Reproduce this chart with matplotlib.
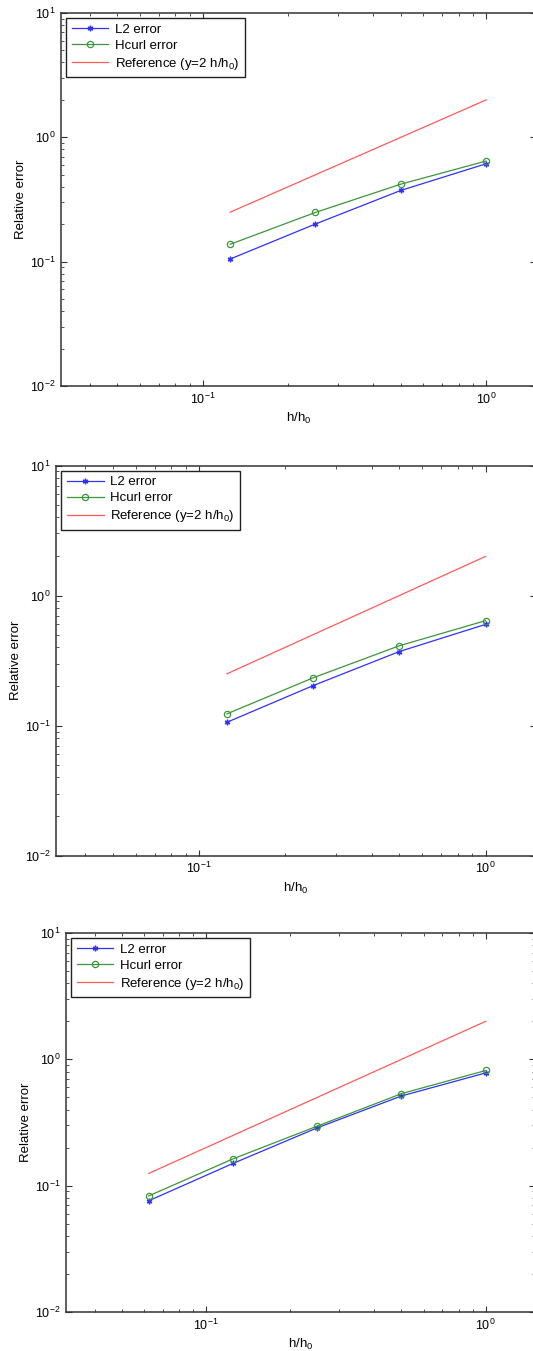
import matplotlib
matplotlib.use('Agg')
import matplotlib.pyplot as plt
from matplotlib.ticker import LogLocator, NullFormatter

plt.rcParams['font.family'] = ['Liberation Sans', 'DejaVu Sans']
plt.rcParams['mathtext.default'] = 'regular'

# data
h1 = [0.125, 0.25, 0.5, 1.0]
l2_1 = [0.105, 0.201, 0.374, 0.613]
hcurl_1 = [0.138, 0.249, 0.42, 0.645]

h2 = [0.125, 0.25, 0.5, 1.0]
l2_2 = [0.106, 0.203, 0.371, 0.600]
hcurl_2 = [0.123, 0.233, 0.411, 0.641]

h3 = [0.0625, 0.125, 0.25, 0.5, 1.0]
l2_3 = [0.076, 0.150, 0.287, 0.513, 0.781]
hcurl_3 = [0.083, 0.163, 0.296, 0.535, 0.816]

panels = [(h1, l2_1, hcurl_1), (h2, l2_2, hcurl_2), (h3, l2_3, hcurl_3)]

W, H = 533, 1351
# axes boxes in pixels: left, top, right, bottom
boxes = [(61, 13, 536, 386), (56, 465.5, 536, 855.6), (66, 933, 535, 1312)]

fig = plt.figure(figsize=(W/100, H/100), dpi=100)

for (h, l2, hc), (x0, yt, x1, yb) in zip(panels, boxes):
	ax = fig.add_axes([x0/W, 1 - yb/H, (x1 - x0)/W, (yb - yt)/H])
	ref = [2*v for v in h]
	ax.loglog(h, l2, '-', color='#3030ff', lw=0.9, marker=(6, 2, 0), ms=4,
			  mew=1.0, label='L2 error')
	ax.loglog(h, hc, '-', color='#3c963c', lw=0.9, marker='o', ms=4.5,
			  mfc='none', mew=0.9, label='Hcurl error')
	ax.loglog(h, ref, '-', color='#ff5a5a', lw=0.9, label='Reference (y=2 h/h$_0$)')
	ax.set_xlim(10**-1.5, 1.5)
	ax.set_ylim(1e-2, 1e1)
	ax.xaxis.set_major_locator(LogLocator(base=10))
	ax.xaxis.set_minor_locator(LogLocator(base=10, subs=range(2, 10)))
	ax.xaxis.set_minor_formatter(NullFormatter())
	ax.yaxis.set_minor_locator(LogLocator(base=10, subs=range(2, 10)))
	ax.yaxis.set_minor_formatter(NullFormatter())
	ax.tick_params(which='both', direction='in', top=True, right=True,
				   labelsize=9, colors='#333333', labelcolor='black')
	ax.tick_params(which='major', length=4, width=0.8, pad=4)
	ax.tick_params(which='minor', length=2.5, width=0.6)
	for s in ax.spines.values():
		s.set_color('#333333')
		s.set_linewidth(1.1)
	ax.set_xlabel('h/h$_0$', fontsize=9.5, labelpad=3)
	ax.set_ylabel('Relative error', fontsize=9.5, labelpad=2)
	leg = ax.legend(loc='upper left', fontsize=9.5, fancybox=False, framealpha=1,
					edgecolor='#222222', handlelength=2.8, borderpad=0.4,
					labelspacing=0.3, handletextpad=0.5, borderaxespad=0.4)
	leg.get_frame().set_linewidth(1.0)

fig.savefig('out.png', dpi=100)
